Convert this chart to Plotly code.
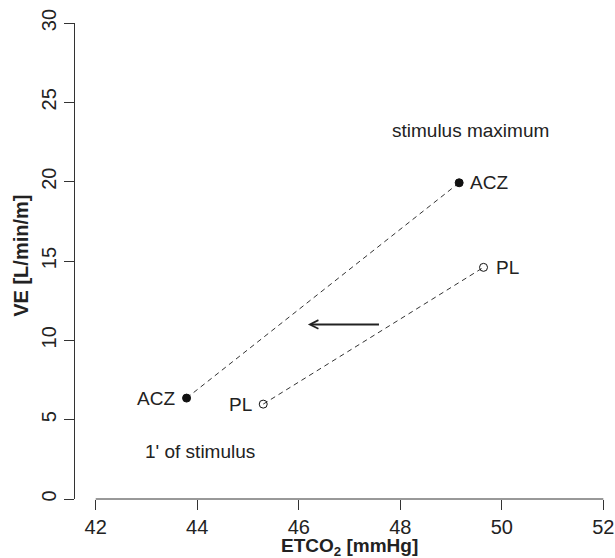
import plotly.graph_objects as go

# End-tidal CO2 vs. minute ventilation, acetazolamide (ACZ) vs. placebo (PL)
etco2_acz = [43.79, 49.16]
ve_acz = [6.36, 19.93]
etco2_pl = [45.30, 49.64]
ve_pl = [5.98, 14.60]

# leftward shift of the response
shift_x = [47.61, 46.18]
shift_y = 11.0

x_ticks = [42, 44, 46, 48, 50, 52]
y_ticks = [0, 5, 10, 15, 20, 25, 30]

ink = "#222222"
axis_col = "#333333"
font_family = "Liberation Sans, Arial, Helvetica, sans-serif"

fig = go.Figure()

fig.add_trace(go.Scatter(
    x=etco2_acz, y=ve_acz, mode="lines+markers",
    line=dict(color=axis_col, width=1, dash="5px,4px"),
    marker=dict(symbol="circle", size=8, color="#111111",
                line=dict(color="#111111", width=1)),
    showlegend=False, hoverinfo="skip",
))
fig.add_trace(go.Scatter(
    x=etco2_pl, y=ve_pl, mode="lines+markers",
    line=dict(color=axis_col, width=1, dash="5px,4px"),
    marker=dict(symbol="circle-open", size=8, color="#111111",
                line=dict(color="#111111", width=1)),
    showlegend=False, hoverinfo="skip",
))

annotations = []
txt = dict(size=19, color=ink, family=font_family)

# point labels
annotations.append(dict(x=etco2_acz[0], y=ve_acz[0], text="ACZ", showarrow=False,
                        xanchor="right", yanchor="middle", xshift=-10, font=txt))
annotations.append(dict(x=etco2_pl[0], y=ve_pl[0], text="PL", showarrow=False,
                        xanchor="right", yanchor="middle", xshift=-9, font=txt))
annotations.append(dict(x=etco2_acz[1], y=ve_acz[1], text="ACZ", showarrow=False,
                        xanchor="left", yanchor="middle", xshift=9, font=txt))
annotations.append(dict(x=etco2_pl[1], y=ve_pl[1], text="PL", showarrow=False,
                        xanchor="left", yanchor="middle", xshift=10, font=txt))

# phase labels
annotations.append(dict(x=49.39, y=23.24, text="stimulus maximum", showarrow=False,
                        xanchor="center", yanchor="middle", font=txt))
annotations.append(dict(x=44.06, y=3.0, text="1' of stimulus", showarrow=False,
                        xanchor="center", yanchor="middle", font=txt))

# shift arrow
annotations.append(dict(x=shift_x[1], y=shift_y, ax=shift_x[0], ay=shift_y,
                        xref="x", yref="y", axref="x", ayref="y", text="",
                        showarrow=True, arrowhead=5, arrowsize=0.85,
                        arrowwidth=2, arrowcolor=ink, standoff=0))

# axis titles
annotations.append(dict(x=47, y=-0.071, xref="x", yref="paper",
                        text="<b>ETCO<sub>2</sub> [mmHg]</b>", showarrow=False,
                        xanchor="center", yanchor="top",
                        font=dict(size=19, color=ink, family=font_family)))
annotations.append(dict(x=-0.099, y=15.3, xref="paper", yref="y",
                        text="<b>VE [L/min/m]</b>", showarrow=False, textangle=-90,
                        xanchor="center", yanchor="middle",
                        font=dict(size=20, color=ink, family=font_family)))

fig.update_layout(
    width=615, height=558,
    margin=dict(l=75, r=0, t=23, b=59),
    paper_bgcolor="white", plot_bgcolor="white",
    font=dict(family=font_family, size=19, color=ink),
    annotations=annotations,
    shapes=[dict(type="line", xref="x", yref="paper", x0=42, x1=52, y0=0, y1=0,
                 line=dict(color=axis_col, width=1))],
)

fig.update_xaxes(
    range=[41.592, 52.23], showgrid=False, zeroline=False, showline=False,
    tickmode="array", tickvals=x_ticks, ticktext=[str(v) for v in x_ticks],
    ticks="outside", ticklen=10, tickwidth=1, tickcolor=axis_col,
    tickfont=dict(size=20, color=ink, family=font_family),
)
fig.update_yaxes(
    range=[0, 30], showgrid=False, zeroline=False,
    showline=True, linecolor=axis_col, linewidth=1,
    tickmode="array", tickvals=y_ticks, ticktext=[str(v) for v in y_ticks],
    ticks="outside", ticklen=10, tickwidth=1, tickcolor=axis_col, tickangle=-90,
    tickfont=dict(size=20, color=ink, family=font_family),
)

fig.write_html("out.html")
